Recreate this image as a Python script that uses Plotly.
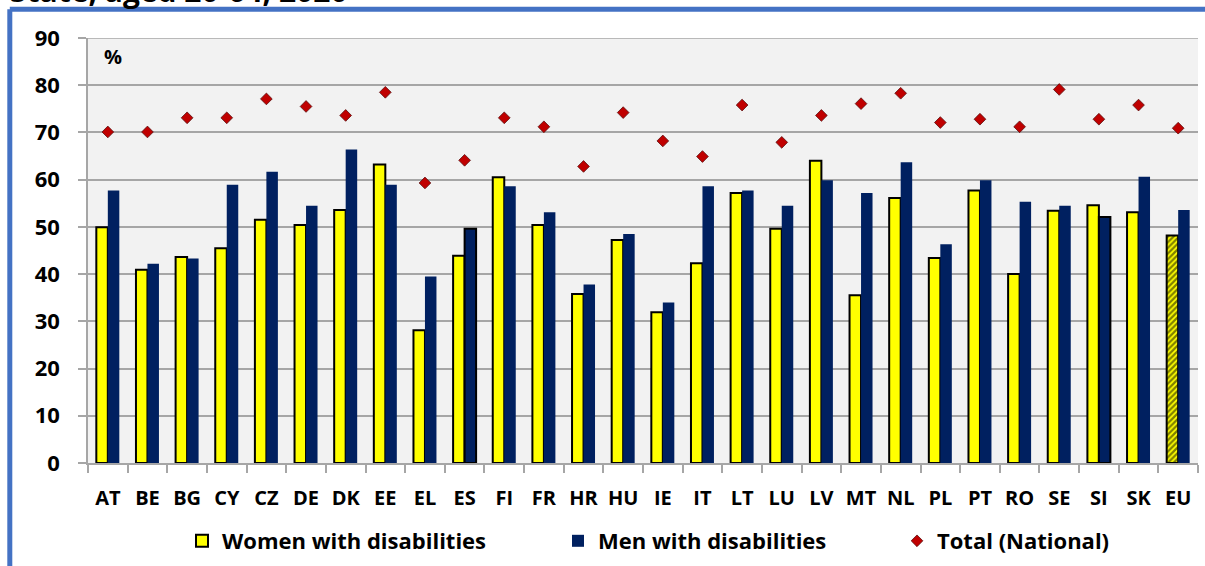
import plotly.graph_objects as go

# data (%)
countries = ["AT", "BE", "BG", "CY", "CZ", "DE", "DK", "EE", "EL", "ES", "FI", "FR", "HR", "HU",
             "IE", "IT", "LT", "LU", "LV", "MT", "NL", "PL", "PT", "RO", "SE", "SI", "SK", "EU"]
women = [49.9, 40.9, 43.6, 45.5, 51.5, 50.4, 53.6, 63.2, 28.1, 43.9, 60.5, 50.4, 35.8, 47.2,
         31.9, 42.3, 57.2, 49.6, 64.0, 35.5, 56.1, 43.4, 57.7, 40.0, 53.4, 54.6, 53.1, 48.2]
men = [57.7, 42.2, 43.3, 58.9, 61.7, 54.5, 66.4, 58.9, 39.5, 49.6, 58.6, 53.1, 37.8, 48.5,
       34.0, 58.6, 57.7, 54.5, 59.9, 57.2, 63.7, 46.3, 59.9, 55.3, 54.5, 52.1, 60.6, 53.6]
total = [70.1, 70.1, 73.1, 73.1, 77.1, 75.5, 73.6, 78.5, 59.3, 64.1, 73.1, 71.2, 62.8, 74.2,
         68.2, 64.9, 75.8, 67.9, 73.6, 76.1, 78.3, 72.1, 72.8, 71.2, 79.1, 72.8, 75.8, 70.9]

W, H = 1205, 566
L, R, T, B = 88, 7, 38, 103
pw, ph = W - L - R, H - T - B


def px_x(x):
    return (x - L) / pw


def px_y(y):
    return (H - B - y) / ph


FONT = "Open Sans"
BLUE = "#4472C4"

women_pattern = ["/" if c == "EU" else "" for c in countries]
men_line_w = [2 if c in ("ES", "SI") else 0 for c in countries]

fig = go.Figure()
fig.add_trace(go.Bar(
    x=countries, y=women, name="Women with disabilities",
    marker=dict(color="#FFFF00", line=dict(color="#000000", width=2),
                pattern=dict(shape=women_pattern, fgcolor="#000000", bgcolor="#FFFF00",
                             size=4, solidity=0.55)),
    legend="legend",
))
fig.add_trace(go.Bar(
    x=countries, y=men, name="Men with disabilities",
    marker=dict(color="#002060", line=dict(color="#000000", width=men_line_w)),
    legend="legend2",
))
fig.add_trace(go.Scatter(
    x=countries, y=total, name="Total (National)", mode="markers",
    marker=dict(symbol="diamond", size=9, color="#C00000", line=dict(color="#5a1010", width=0.8)),
    legend="legend3",
))

legend_common = dict(orientation="h", yanchor="middle", y=px_y(541), xanchor="left",
                     bgcolor="rgba(0,0,0,0)", borderwidth=0,
                     font=dict(family=FONT, size=22, color="#000000", weight="bold"))

fig.update_layout(
    width=W, height=H,
    margin=dict(l=L, r=R, t=T, b=B, autoexpand=False),
    paper_bgcolor="#FFFFFF",
    plot_bgcolor="#F2F2F2",
    barmode="group", bargap=0.42, bargroupgap=0,
    showlegend=True,
    legend=dict(x=px_x(182), **legend_common),
    legend2=dict(x=px_x(558), **legend_common),
    legend3=dict(x=px_x(897), **legend_common),
    font=dict(family=FONT, color="#000000"),
)

fig.update_yaxes(
    range=[0, 90], dtick=10, tick0=0,
    showgrid=True, gridcolor="#A6A6A6", gridwidth=1.5,
    showline=True, linecolor="#A6A6A6", linewidth=1.5,
    ticks="outside", ticklen=8, tickcolor="#A6A6A6", tickwidth=1.5,
    ticklabelstandoff=14,
    tickfont=dict(family=FONT, size=22, color="#000000", weight="bold"),
    zeroline=False, fixedrange=True,
)
fig.update_xaxes(
    range=[-0.5, len(countries) - 0.5],
    showline=True, linecolor="#A6A6A6", linewidth=1.5,
    ticks="outside", ticklen=8, tickcolor="#A6A6A6", tickwidth=1.5,
    tickson="boundaries", ticklabelstandoff=16, tickangle=0,
    tickfont=dict(family=FONT, size=20, color="#000000", weight="bold"),
    fixedrange=True,
)

# top gridline at 90
fig.add_shape(type="line", xref="paper", yref="y", x0=0, x1=1, y0=90, y1=90,
              line=dict(color="#A6A6A6", width=1.5))

# blue frame (top and left edges)
fig.add_shape(type="line", xref="paper", yref="paper",
              x0=px_x(9.8), x1=px_x(W + 5), y0=px_y(9.2), y1=px_y(9.2),
              line=dict(color=BLUE, width=5))
fig.add_shape(type="line", xref="paper", yref="paper",
              x0=px_x(9.8), x1=px_x(9.8), y0=px_y(9.2), y1=px_y(H + 5),
              line=dict(color=BLUE, width=5))

# cropped title above the frame
fig.add_annotation(text="<b>State, aged 20-64, 2020</b>", xref="paper", yref="paper",
                   x=px_x(8), y=px_y(13), xanchor="left", yanchor="bottom", showarrow=False,
                   font=dict(family=FONT, size=30, color="#000000"))

fig.add_annotation(text="<b>%</b>", xref="paper", yref="paper",
                   x=px_x(102), y=px_y(57), xanchor="left", yanchor="middle", showarrow=False,
                   font=dict(family=FONT, size=20, color="#000000"))

fig.write_html("out.html", config={"displayModeBar": False},
               post_script="document.body.style.margin='0';")
